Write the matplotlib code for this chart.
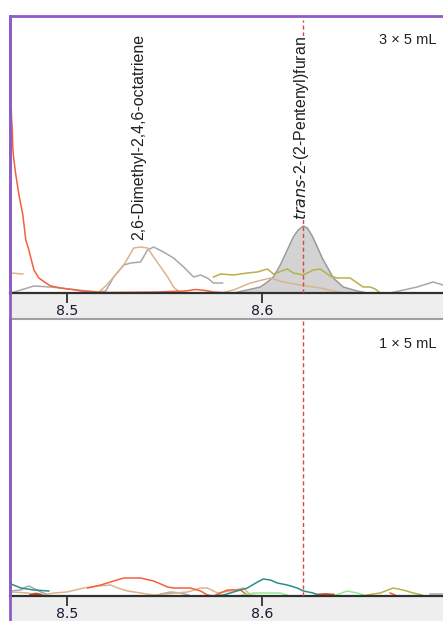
import matplotlib
matplotlib.use("Agg")
import matplotlib.pyplot as plt
from matplotlib.patches import Rectangle
from matplotlib.lines import Line2D

# ---------------- data ----------------
xlim = (8.4705, 8.6927)
ticks = [8.5, 8.6]
tick_labels = ["8.5", "8.6"]
marker_rt = 8.6210
panel_titles = ["3 \u00d7 5 mL", "1 \u00d7 5 mL"]
compound_labels = ["2,6-Dimethyl-2,4,6-octatriene", "trans-2-(2-Pentenyl)furan"]
label_rt = [8.5365, 8.6200]
label_y = [53, 73]

# top panel (3 x 5 mL)
top_red_rt = [8.4710, 8.4713, 8.4716, 8.4720, 8.4725, 8.4735, 8.4751, 8.4771, 8.4786, 8.4802,
              8.4812, 8.4828, 8.4853, 8.4889, 8.4915, 8.4966, 8.5043, 8.5068, 8.5200,
              8.5462, 8.5529, 8.5606, 8.5657, 8.5708, 8.5749, 8.5800]
top_red_int = [193, 175, 166, 143, 133, 118, 98, 78, 53, 43, 35, 23, 15, 10, 7, 5, 3, 2, 0.5,
               1, 1.5, 2, 3.5, 2.5, 1, 0.3]

top_tan_a_rt = [8.4710, 8.4771]
top_tan_a_int = [20, 19]
top_tan_rt = [8.5155, 8.5196, 8.5237, 8.5289, 8.5340, 8.5375, 8.5411, 8.5442, 8.5478,
              8.5514, 8.5544, 8.5580, 8.5800, 8.5852, 8.5939, 8.6041, 8.6108, 8.6194,
              8.6297, 8.6364, 8.6415]
top_tan_int = [0, 7, 16, 28, 45, 46, 45, 36, 26, 16, 6, 0, 0.5, 3, 10, 15, 11, 8, 5, 2, 0]

top_gray_rt = [8.4710, 8.4828, 8.4915, 8.5053, 8.5155, 8.5196, 8.5237, 8.5289, 8.5324,
               8.5375, 8.5411, 8.5442, 8.5493, 8.5544, 8.5596, 8.5647, 8.5683, 8.5718,
               8.5749, 8.5796]
top_gray_int = [0, 7, 6, 3, 1, 2, 16, 28, 30, 31, 43, 46, 41, 35, 26, 16, 18, 15, 10, 10]
top_gray_b_rt = [8.6656, 8.6794, 8.6876, 8.6927]
top_gray_b_int = [0, 6, 11, 8]

top_olive_rt = [8.5749, 8.5785, 8.5852, 8.5923, 8.5975, 8.6026, 8.6057, 8.6128, 8.6159,
                8.6210, 8.6261, 8.6297, 8.6348, 8.6384, 8.6451, 8.6487, 8.6517, 8.6553,
                8.6579, 8.6605]
top_olive_int = [16, 19, 18, 20, 21, 24, 19, 24, 20, 18, 23, 24, 17, 15, 15, 10, 6, 6, 4, 0]

peak_rt = [8.5852, 8.5923, 8.5990, 8.6026, 8.6057, 8.6092, 8.6128, 8.6159, 8.6184, 8.6210,
           8.6231, 8.6256, 8.6282, 8.6307, 8.6333, 8.6364, 8.6415, 8.6487, 8.6538]
peak_int = [0, 3, 6, 11, 16, 28, 43, 56, 63, 67, 65, 57, 46, 35, 26, 15, 6, 2, 0]

# bottom panel (1 x 5 mL)
bot_teal_a_rt = [8.4710, 8.4761, 8.4828, 8.4904]
bot_teal_a_int = [12, 8, 6, 5]
bot_teal_rt = [8.5749, 8.5801, 8.5852, 8.5923, 8.5975, 8.6005, 8.6041, 8.6077, 8.6128,
               8.6179, 8.6210, 8.6261, 8.6297]
bot_teal_int = [0, 1, 4, 8, 14, 17, 16, 13, 11, 8, 5, 3, 0]

bot_gray_rt = [8.4710, 8.4761, 8.4786, 8.4802, 8.4823, 8.4843, 8.4863, 8.4890]
bot_gray_int = [5, 6, 9, 10, 8, 6, 4, 2]
bot_gray_b_rt = [8.5478, 8.5530, 8.5580, 8.5620]
bot_gray_b_int = [2, 4, 3, 1]
bot_gray_c_rt = [8.6860, 8.6927]
bot_gray_c_int = [2, 2]

bot_tan_rt = [8.4710, 8.4797, 8.4848, 8.4930, 8.4997, 8.5084, 8.5155, 8.5222, 8.5258,
              8.5309, 8.5375, 8.5442, 8.5616, 8.5683, 8.5718, 8.5770, 8.5836, 8.5903,
              8.5939, 8.5990]
bot_tan_int = [4, 3, 0, 3, 4, 8, 10, 11, 8, 5, 3, 1, 4, 8, 8, 3, 5, 8, 1, 0]

bot_red_rt = [8.5104, 8.5171, 8.5237, 8.5289, 8.5375, 8.5442, 8.5514, 8.5544, 8.5631,
              8.5683, 8.5718, 8.5749, 8.5785, 8.5821, 8.5887, 8.5923, 8.5939]
bot_red_int = [8, 11, 15, 18, 18, 15, 9, 8, 8, 5, 1, 0, 3, 6, 6, 1, 0]
bot_red_b_rt = [8.6656, 8.6692]
bot_red_b_int = [3, 0]

bot_green_rt = [8.5872, 8.5954, 8.6026, 8.6092, 8.6143]
bot_green_int = [0, 3, 3, 3, 0]
bot_green_b_rt = [8.6364, 8.6435, 8.6487, 8.6538]
bot_green_b_int = [0, 5, 3, 0]

bot_olive_rt = [8.6538, 8.6605, 8.6671, 8.6722, 8.6774, 8.6820]
bot_olive_int = [1, 3, 8, 6, 3, 1]

bot_brown_rt = [8.4812, 8.4838, 8.4863, 8.6282, 8.6323, 8.6364]
bot_brown_int = [1, 2, 1, 1, 1.5, 1]

# ---------------- styles ----------------
C_RED = "#f4603c"
C_TAN = "#dcb48a"
C_GRAY = "#a8a8a8"
C_OLIVE = "#b8b048"
C_TEAL = "#2a8c8c"
C_GREEN = "#90ee90"
C_BROWN = "#c04a28"
C_PURPLE = "#8c5cc8"

W, H = 443, 621
fig = plt.figure(figsize=(W / 100, H / 100), dpi=100)


def fy(py):
    return 1 - py / H


def fx(px):
    return px / W


# panel geometry in pixels: (top, axis_line)
panels = [(16, 293), (321, 596)]

# gray strips under each axis (drawn behind axes)
for (ptop, pbot), strip_end in zip(panels, [320, 640]):
    fig.patches.append(Rectangle((fx(10), fy(strip_end)), 1, fy(pbot) - fy(strip_end),
                                 transform=fig.transFigure, facecolor="#eeeeee",
                                 edgecolor="none", zorder=-5))
fig.lines.append(Line2D([fx(10), 1], [fy(319.5), fy(319.5)], transform=fig.transFigure,
                        color="#a0a0a0", lw=1.5, zorder=-4))

axes = []
for (ptop, pbot) in panels:
    ax = fig.add_axes([fx(10), fy(pbot), fx(W - 10), fy(ptop) - fy(pbot)], zorder=1)
    axes.append(ax)

ylims = [(0, 277), (0, 275)]
for i, ax in enumerate(axes):
    ax.set_xlim(*xlim)
    ax.set_ylim(*ylims[i])
    ax.set_yticks([])
    ax.set_xticks(ticks)
    ax.set_xticklabels(tick_labels, fontsize=10.2, color="#1a1a30", family="DejaVu Sans")
    ax.tick_params(axis="x", direction="out", length=7, width=1.3, color="#303030", pad=1)
    ax.spines["right"].set_visible(False)
    ax.spines["bottom"].set_color("#303030")
    ax.spines["bottom"].set_linewidth(1.6)
    ax.spines["left"].set_color(C_PURPLE)
    ax.spines["left"].set_linewidth(2)
    if i == 0:
        ax.spines["top"].set_color(C_PURPLE)
        ax.spines["top"].set_linewidth(2)
    else:
        ax.spines["top"].set_visible(False)
    ax.patch.set_facecolor("white")
    ax.axvline(marker_rt, color="#e04444", lw=1, ls=(0, (3, 2)), zorder=3,
               ymin=0, ymax=(0.985 if i == 0 else 1))
    ax.text(0.984, 0.94, panel_titles[i], transform=ax.transAxes, ha="right", va="top",
            fontsize=10.5, family="Liberation Sans", color="#202020")

# left purple line through the strips
fig.lines.append(Line2D([fx(10), fx(10)], [0, fy(16)], transform=fig.transFigure,
                        color=C_PURPLE, lw=2, zorder=5))

lw = 1.1
ax = axes[0]
ax.fill_between(peak_rt, peak_int, color="#d3d3d3", zorder=1, lw=0)
ax.plot(peak_rt, peak_int, color="#9a9a9a", lw=lw, zorder=2)
ax.plot(top_gray_rt, top_gray_int, color=C_GRAY, lw=lw, zorder=2)
ax.plot(top_gray_b_rt, top_gray_b_int, color=C_GRAY, lw=lw, zorder=2)
ax.plot(top_olive_rt, top_olive_int, color=C_OLIVE, lw=lw, zorder=2)
ax.plot(top_tan_rt, top_tan_int, color=C_TAN, lw=lw, zorder=2)
ax.plot(top_tan_a_rt, top_tan_a_int, color=C_TAN, lw=lw, zorder=2)
ax.plot(top_red_rt, top_red_int, color=C_RED, lw=lw, zorder=2)

ax.text(label_rt[0], label_y[0], compound_labels[0], rotation=90, ha="center", va="bottom",
        fontsize=11.5, family="Liberation Sans", color="#202020", zorder=4,
        bbox=dict(facecolor="white", edgecolor="none", pad=0))
ax.text(label_rt[1], label_y[1], r"$\it{trans}$" + compound_labels[1][5:], rotation=90,
        ha="center", va="bottom", fontsize=11.4, family="Liberation Sans", color="#202020",
        zorder=4, bbox=dict(facecolor="white", edgecolor="none", pad=0))

ax = axes[1]
ax.plot(bot_gray_rt, bot_gray_int, color=C_GRAY, lw=lw, zorder=2)
ax.plot(bot_gray_b_rt, bot_gray_b_int, color=C_GRAY, lw=lw, zorder=2)
ax.plot(bot_gray_c_rt, bot_gray_c_int, color=C_GRAY, lw=lw, zorder=2)
ax.plot(bot_tan_rt, bot_tan_int, color=C_TAN, lw=lw, zorder=2)
ax.plot(bot_red_rt, bot_red_int, color=C_RED, lw=lw, zorder=2)
ax.plot(bot_red_b_rt, bot_red_b_int, color=C_RED, lw=lw, zorder=2)
ax.plot(bot_green_rt, bot_green_int, color=C_GREEN, lw=lw, zorder=2)
ax.plot(bot_green_b_rt, bot_green_b_int, color=C_GREEN, lw=lw, zorder=2)
ax.plot(bot_olive_rt, bot_olive_int, color=C_OLIVE, lw=lw, zorder=2)
ax.plot(bot_brown_rt[:3], bot_brown_int[:3], color=C_BROWN, lw=2, zorder=2)
ax.plot(bot_brown_rt[3:], bot_brown_int[3:], color=C_BROWN, lw=2, zorder=2)
ax.plot(bot_teal_a_rt, bot_teal_a_int, color=C_TEAL, lw=lw, zorder=2)
ax.plot(bot_teal_rt, bot_teal_int, color=C_TEAL, lw=lw, zorder=2)

fig.savefig("out.png", dpi=100)
